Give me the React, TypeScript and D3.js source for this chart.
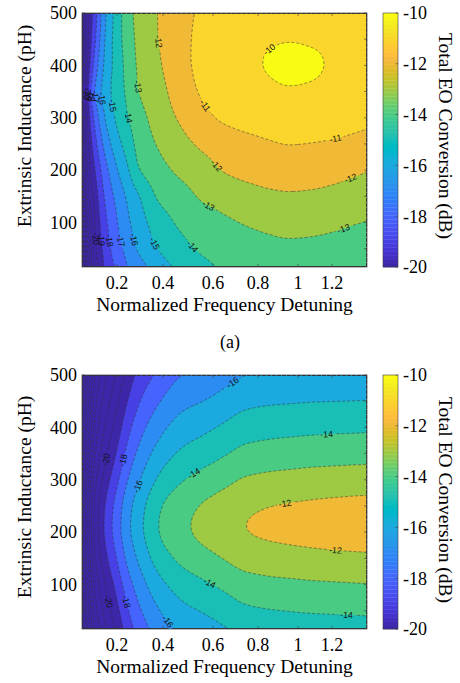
import React, { useMemo } from "react";
import * as d3 from "d3";

// ---------- data ----------
// grid columns: normalized frequency detuning
const xGrid = [0.04, 0.07, 0.1, 0.149, 0.198, 0.245, 0.292, 0.386, 0.473, 0.56, 0.651, 0.747, 0.848, 0.956, 1.076, 1.202, 1.301, 1.36];
// grid rows: extrinsic inductance (pH)
const yGrid = [15, 50, 100, 150, 200, 250, 300, 350, 400, 450, 500];

// panel (a): total EO conversion (dB), one row per yGrid value
const eoTop = [
  [-29, -23.5, -20.6, -18.8, -17.84, -17.02, -16.46, -15.45, -14.74, -14.24, -13.88, -13.7, -13.57, -13.5, -13.52, -13.6, -13.72, -13.8],
  [-28.5, -23.5, -20.3, -18.55, -17.44, -16.69, -15.89, -14.91, -14.29, -13.85, -13.58, -13.4, -13.27, -13.2, -13.23, -13.32, -13.45, -13.52],
  [-27, -22.5, -20, -18.17, -17.1, -16.21, -15.49, -14.45, -13.83, -13.5, -13.17, -12.93, -12.77, -12.66, -12.7, -12.8, -12.95, -13.03],
  [-25.5, -21.2, -19.55, -17.78, -16.73, -15.85, -15.08, -13.83, -13.39, -12.85, -12.55, -12.33, -12.17, -12.1, -12.14, -12.25, -12.4, -12.5],
  [-24.5, -20.5, -19, -17.29, -16.11, -15.15, -14.11, -13.32, -12.77, -12.34, -11.95, -11.75, -11.62, -11.55, -11.58, -11.68, -11.85, -11.95],
  [-24, -20, -18.35, -16.57, -15.42, -14.56, -13.73, -12.86, -12.29, -11.83, -11.55, -11.3, -11.1, -10.98, -11.02, -11.1, -11.2, -11.25],
  [-23.5, -19.43, -17.68, -15.89, -14.85, -14.09, -13.41, -12.52, -11.85, -11.24, -10.85, -10.62, -10.5, -10.45, -10.48, -10.58, -10.75, -10.85],
  [-23, -19, -17, -15.52, -14.55, -13.81, -13.03, -12.29, -11.5, -10.88, -10.55, -10.32, -10.14, -10.06, -10.1, -10.22, -10.37, -10.45],
  [-23.5, -19.53, -17.59, -15.69, -14.6, -13.67, -12.89, -12.08, -11.31, -10.72, -10.4, -10.15, -9.97, -9.88, -9.92, -10.07, -10.22, -10.3],
  [-24, -19.88, -18.12, -15.86, -14.54, -13.53, -12.79, -11.95, -11.27, -10.75, -10.45, -10.22, -10.08, -10.03, -10.07, -10.16, -10.28, -10.36],
  [-24.5, -20.1, -18.47, -16.04, -14.61, -13.4, -12.72, -11.92, -11.3, -10.85, -10.62, -10.48, -10.41, -10.38, -10.4, -10.47, -10.56, -10.62],
];

// panel (b)
const eoBottom = [
  [-29.28, -25.58, -22.88, -21.03, -19.78, -18.57, -17.67, -16.52, -15.8, -15.46, -15.08, -14.71, -14.59, -14.52, -14.47, -14.44, -14.42, -14.4],
  [-28.83, -25.13, -22.43, -20.58, -19.33, -18.12, -17.22, -16.01, -15.29, -14.93, -14.55, -14.18, -14.05, -13.98, -13.92, -13.89, -13.86, -13.84],
  [-28.18, -24.48, -21.78, -19.93, -18.68, -17.47, -16.57, -15.28, -14.56, -14.16, -13.78, -13.41, -13.27, -13.2, -13.13, -13.09, -13.05, -13.03],
  [-27.5, -23.8, -21.1, -19.25, -18.0, -16.79, -15.89, -14.51, -13.79, -13.34, -12.96, -12.59, -12.45, -12.36, -12.29, -12.23, -12.19, -12.17],
  [-27.03, -23.33, -20.63, -18.78, -17.53, -16.32, -15.42, -13.98, -13.26, -12.78, -12.4, -12.03, -11.88, -11.79, -11.71, -11.65, -11.6, -11.58],
  [-27.15, -23.45, -20.75, -18.9, -17.65, -16.44, -15.54, -14.12, -13.4, -12.93, -12.55, -12.18, -12.03, -11.94, -11.87, -11.81, -11.76, -11.74],
  [-27.76, -24.06, -21.36, -19.51, -18.26, -17.05, -16.15, -14.81, -14.09, -13.65, -13.27, -12.9, -12.76, -12.68, -12.61, -12.56, -12.52, -12.5],
  [-28.44, -24.74, -22.04, -20.19, -18.94, -17.73, -16.83, -15.57, -14.85, -14.46, -14.08, -13.71, -13.58, -13.51, -13.44, -13.4, -13.37, -13.35],
  [-29.09, -25.39, -22.69, -20.84, -19.59, -18.38, -17.48, -16.3, -15.58, -15.23, -14.85, -14.48, -14.36, -14.29, -14.24, -14.2, -14.18, -14.16],
  [-29.74, -26.04, -23.34, -21.49, -20.24, -19.03, -18.13, -17.03, -16.31, -16.0, -15.62, -15.25, -15.13, -15.08, -15.03, -15.01, -14.99, -14.97],
  [-30.38, -26.68, -23.98, -22.13, -20.88, -19.67, -18.77, -17.75, -17.03, -16.76, -16.38, -16.01, -15.9, -15.85, -15.82, -15.8, -15.79, -15.77],
];

const contourLevels = [-40, -39, -38, -37, -36, -35, -34, -33, -32, -31, -30, -29, -28, -27, -26, -25, -24, -23, -22, -21, -20, -19, -18, -17, -16, -15, -14, -13, -12, -11, -10];

// contour label anchors (level, detuning, inductance)
const labelsTop = [
  { v: -10, x: 0.877, y: 420 },
  { v: -11, x: 0.561, y: 321 }, { v: -11, x: 1.214, y: 261 },
  { v: -12, x: 0.38, y: 445 }, { v: -12, x: 0.601, y: 203 }, { v: -12, x: 1.29, y: 181 },
  { v: -13, x: 0.293, y: 359 }, { v: -13, x: 0.575, y: 124 }, { v: -13, x: 1.252, y: 86 },
  { v: -14, x: 0.249, y: 302 }, { v: -14, x: 0.515, y: 54 },
  { v: -15, x: 0.183, y: 324 }, { v: -15, x: 0.373, y: 63 },
  { v: -16, x: 0.137, y: 337 }, { v: -16, x: 0.278, y: 68 },
  { v: -17, x: 0.111, y: 341 }, { v: -17, x: 0.225, y: 66 },
  { v: -18, x: 0.09, y: 343 }, { v: -18, x: 0.159, y: 66 },
  { v: -19, x: 0.074, y: 345 }, { v: -19, x: 0.131, y: 68 },
  { v: -20, x: 0.063, y: 347 }, { v: -20, x: 0.102, y: 70 },
];
const labelsBottom = [
  { v: -12, x: 0.935, y: 257 }, { v: -12, x: 1.214, y: 159 },
  { v: -14, x: 0.528, y: 308 }, { v: -14, x: 1.169, y: 388 }, { v: -14, x: 0.575, y: 92 }, { v: -14, x: 1.267, y: 41 },
  { v: -16, x: 0.278, y: 289 }, { v: -16, x: 0.69, y: 483 }, { v: -16, x: 0.435, y: 35 },
  { v: -18, x: 0.22, y: 337 }, { v: -18, x: 0.22, y: 66 },
  { v: -20, x: 0.145, y: 340 }, { v: -20, x: 0.145, y: 66 },
];

// x axis breakpoints (the axis spacing in the picture is not uniform)
const xAxisValues = [0.04, 0.2, 0.4, 0.6, 0.8, 1.0, 1.2, 1.36];
const xTicks = [0.2, 0.4, 0.6, 0.8, 1, 1.2];
const xTickLabels = ["0.2", "0.4", "0.6", "0.8", "1", "1.2"];
const yTicks = [50, 100, 150, 200, 250, 300, 350, 400, 450, 500];
const yTickLabels = [100, 200, 300, 400, 500];
const cbTicks = [-20, -18, -16, -14, -12, -10];

const PARULA = [
  [0.2422, 0.1504, 0.6603], [0.2504, 0.165, 0.7076], [0.2578, 0.1818, 0.7511], [0.2647, 0.1978, 0.7952],
  [0.2706, 0.2147, 0.8364], [0.2751, 0.2342, 0.871], [0.2783, 0.2559, 0.8991], [0.2803, 0.2782, 0.9221],
  [0.2813, 0.3006, 0.9414], [0.281, 0.3228, 0.9579], [0.2795, 0.3447, 0.9717], [0.276, 0.3667, 0.9829],
  [0.2699, 0.3892, 0.9906], [0.2602, 0.4123, 0.9952], [0.244, 0.4358, 0.9988], [0.2206, 0.4603, 0.9973],
  [0.1963, 0.4847, 0.9892], [0.1834, 0.5074, 0.9798], [0.1786, 0.5289, 0.9682], [0.1764, 0.5499, 0.952],
  [0.1687, 0.5703, 0.9359], [0.154, 0.5902, 0.9218], [0.146, 0.6091, 0.9079], [0.138, 0.6276, 0.8973],
  [0.1248, 0.6459, 0.8883], [0.1113, 0.6635, 0.8763], [0.0952, 0.6798, 0.8598], [0.0689, 0.6948, 0.8394],
  [0.0297, 0.7082, 0.8163], [0.0036, 0.7203, 0.7917], [0.0067, 0.7312, 0.766], [0.0433, 0.7411, 0.7394],
  [0.0964, 0.75, 0.712], [0.1408, 0.7584, 0.6842], [0.1717, 0.767, 0.6554], [0.1938, 0.7758, 0.6251],
  [0.2161, 0.7843, 0.5923], [0.247, 0.7918, 0.5567], [0.2906, 0.7973, 0.5188], [0.3406, 0.8008, 0.4789],
  [0.3909, 0.8029, 0.4354], [0.4456, 0.8024, 0.3909], [0.5044, 0.7993, 0.348], [0.5616, 0.7942, 0.3045],
  [0.6174, 0.7876, 0.2612], [0.672, 0.7793, 0.2227], [0.7242, 0.7698, 0.191], [0.7738, 0.7598, 0.1646],
  [0.8203, 0.7498, 0.1535], [0.8634, 0.7406, 0.1596], [0.9035, 0.733, 0.1774], [0.9393, 0.7288, 0.21],
  [0.9728, 0.7298, 0.2394], [0.9956, 0.7434, 0.2371], [0.997, 0.7659, 0.2199], [0.9952, 0.7893, 0.2028],
  [0.9892, 0.8136, 0.1885], [0.9786, 0.8386, 0.1766], [0.9676, 0.8639, 0.1643], [0.961, 0.889, 0.1537],
  [0.9597, 0.9135, 0.1423], [0.9628, 0.9373, 0.1265], [0.9691, 0.9606, 0.1064], [0.9769, 0.9839, 0.0805],
];

// ---------- helpers ----------
const C_MIN = -20, C_MAX = -10;
const parulaHex = PARULA.map(([r, g, b]) => d3.rgb(r * 255, g * 255, b * 255).formatHex());
function colorFor(v: number) {
  let k = Math.floor(((v - C_MIN) / (C_MAX - C_MIN)) * 64);
  k = Math.max(0, Math.min(63, k));
  return parulaHex[k];
}

function monoSlopes(xs: number[], ys: number[]) {
  const n = xs.length;
  const d: number[] = [];
  for (let k = 0; k < n - 1; k++) d.push((ys[k + 1] - ys[k]) / (xs[k + 1] - xs[k]));
  const m = new Array(n).fill(0);
  m[0] = d[0];
  m[n - 1] = d[n - 2];
  for (let k = 1; k < n - 1; k++) {
    if (d[k - 1] * d[k] <= 0) m[k] = 0;
    else {
      const h0 = xs[k] - xs[k - 1], h1 = xs[k + 1] - xs[k];
      const w1 = 2 * h1 + h0, w2 = h1 + 2 * h0;
      m[k] = (w1 + w2) / (w1 / d[k - 1] + w2 / d[k]);
    }
  }
  return m;
}
function smoothSlopes(xs: number[], ys: number[]) {
  const n = xs.length;
  const d: number[] = [];
  for (let k = 0; k < n - 1; k++) d.push((ys[k + 1] - ys[k]) / (xs[k + 1] - xs[k]));
  const m = new Array(n).fill(0);
  m[0] = d[0];
  m[n - 1] = d[n - 2];
  for (let k = 1; k < n - 1; k++) {
    const h0 = xs[k] - xs[k - 1], h1 = xs[k + 1] - xs[k];
    m[k] = (h1 * d[k - 1] + h0 * d[k]) / (h0 + h1);
  }
  return m;
}
function hermite(xs: number[], ys: number[], m: number[], x: number) {
  const n = xs.length;
  let i = d3.bisectRight(xs, x) - 1;
  i = Math.max(0, Math.min(n - 2, i));
  const h = xs[i + 1] - xs[i];
  const t = Math.max(0, Math.min(1, (x - xs[i]) / h));
  const t2 = t * t, t3 = t2 * t;
  return (2 * t3 - 3 * t2 + 1) * ys[i] + (t3 - 2 * t2 + t) * h * m[i] + (-2 * t3 + 3 * t2) * ys[i + 1] + (t3 - t2) * h * m[i + 1];
}

const PL = 82, PR = 367, PH = 254;
const CB0 = 383, CB1 = 398;
const SERIF = "'Liberation Serif', 'Times New Roman', serif";
const SANS = "'Liberation Sans', Arial, sans-serif";
const AXIS_COLOR = "#3c3c3c";
// pixel positions of the axis breakpoints as they appear in the picture
const xAxisPixels = [82, 117, 163, 213, 258, 298, 332, 367];

type Lab = { v: number; x: number; y: number };

function Panel({ top, grid, labels, id, titleY, cbTitleY }: { top: number; grid: number[][]; labels: Lab[]; id: string; titleY: number; cbTitleY: number }) {
  const bottom = top + PH;
  const x = d3.scaleLinear().domain(xAxisValues).range(xAxisPixels);
  const y = d3.scaleLinear().domain([15, 500]).range([bottom, top]);
  const c = d3.scaleLinear().domain([C_MIN, C_MAX]).range([bottom, top]);
  const nx = PR - PL, ny = PH;

  const { contours, labelItems } = useMemo(() => {
    const rowSlopes = grid.map((r) => monoSlopes(xGrid, r));
    const vals = new Array(nx * ny);
    for (let i = 0; i < nx; i++) {
      const xv = Math.max(0.04, Math.min(1.36, x.invert(PL + i + 0.5)));
      const col = grid.map((r, k) => hermite(xGrid, r, rowSlopes[k], xv));
      const ms = smoothSlopes(yGrid, col);
      for (let j = 0; j < ny; j++) {
        const yv = Math.max(15, Math.min(500, y.invert(top + j + 0.5)));
        vals[j * nx + i] = hermite(yGrid, col, ms, yv);
      }
    }
    const cs = d3.contours().size([nx, ny]).thresholds(contourLevels)(vals);
    const items = labels.map((lab) => {
      const tx = x(lab.x) - PL, ty = y(lab.y) - top;
      const cc = cs.find((q) => q.value === lab.v);
      let best = { d: Infinity, px: tx, py: ty, ang: 0 };
      if (cc) {
        for (const poly of cc.coordinates) {
          for (const ring of poly) {
            const L = ring.length;
            for (let k = 0; k < L; k++) {
              const [px, py] = ring[k];
              if (px <= 0.01 || px >= nx - 0.01 || py <= 0.01 || py >= ny - 0.01) continue;
              const dd = (px - tx) ** 2 + (py - ty) ** 2;
              if (dd < best.d) {
                const a = ring[(k - 3 + L) % L], b = ring[(k + 3) % L];
                let ang = (Math.atan2(b[1] - a[1], b[0] - a[0]) * 180) / Math.PI;
                if (ang > 90) ang -= 180;
                if (ang < -90) ang += 180;
                best = { d: dd, px, py, ang };
              }
            }
          }
        }
      }
      return { text: String(lab.v), px: best.px + PL, py: best.py + top, ang: best.ang };
    });
    return { contours: cs, labelItems: items };
  }, []);

  const path = d3.geoPath();
  const cbSteps = d3.range(64);

  return (
    <g>
      <defs>
        <clipPath id={`clip-${id}`}>
          <rect x={PL} y={top} width={nx} height={ny} />
        </clipPath>
        <mask id={`mask-${id}`} maskUnits="userSpaceOnUse" x={0} y={0} width={460} height={683}>
          <rect x={0} y={0} width={460} height={683} fill="white" />
          {labelItems.map((l, i) => (
            <rect key={i} x={-(l.text.length * 4.9 + 2) / 2} y={-3.8} width={l.text.length * 4.9 + 2} height={7.6} fill="black"
              transform={`translate(${l.px},${l.py}) rotate(${l.ang})`} />
          ))}
        </mask>
      </defs>
      <g clipPath={`url(#clip-${id})`}>
        <rect x={PL} y={top} width={nx} height={ny} fill={colorFor(-40)} />
        <g transform={`translate(${PL},${top})`}>
          {contours.map((cc, i) => (
            <path key={i} d={path(cc as any) || ""} fill={colorFor(cc.value)} stroke="none" />
          ))}
        </g>
        <g mask={`url(#mask-${id})`}>
          <g transform={`translate(${PL},${top})`}>
            {contours.map((cc, i) => (
              <path key={i} d={path(cc as any) || ""} fill="none" stroke="#333" strokeWidth={0.55} strokeDasharray="3 2" />
            ))}
          </g>
        </g>
        {labelItems.map((l, i) => (
          <text key={i} transform={`translate(${l.px},${l.py}) rotate(${l.ang})`} textAnchor="middle" dy="0.34em"
            fontFamily={SANS} fontSize={8.8} fill="#111">{l.text}</text>
        ))}
      </g>
      {/* axes box and ticks */}
      <rect x={PL} y={top} width={nx} height={ny} fill="none" stroke={AXIS_COLOR} strokeWidth={0.7} />
      {xTicks.map((t, i) => (
        <g key={i}>
          <line x1={x(t)} x2={x(t)} y1={bottom} y2={bottom - 3} stroke={AXIS_COLOR} strokeWidth={0.6} />
          <line x1={x(t)} x2={x(t)} y1={top} y2={top + 3} stroke={AXIS_COLOR} strokeWidth={0.6} />
          <text x={x(t)} y={bottom + 22} textAnchor="middle" fontFamily={SERIF} fontSize={18} fill="#000">{xTickLabels[i]}</text>
        </g>
      ))}
      {yTicks.map((t, i) => (
        <g key={i}>
          <line x1={PL} x2={PL + 3} y1={y(t)} y2={y(t)} stroke={AXIS_COLOR} strokeWidth={0.6} />
          <line x1={PR} x2={PR - 3} y1={y(t)} y2={y(t)} stroke={AXIS_COLOR} strokeWidth={0.6} />
        </g>
      ))}
      {yTickLabels.map((t, i) => (
        <text key={i} x={77} y={y(t)} dy="0.35em" textAnchor="end" fontFamily={SERIF} fontSize={18} fill="#000">{t}</text>
      ))}
      <text x={(PL + PR) / 2} y={bottom + 44} textAnchor="middle" fontFamily={SERIF} fontSize={19.5} fill="#000">Normalized Frequency Detuning</text>
      <text transform={`translate(31,${titleY}) rotate(-90)`} textAnchor="middle" fontFamily={SERIF} fontSize={19.5} fill="#000">Extrinsic Inductance (pH)</text>
      {/* colorbar */}
      {cbSteps.map((k) => (
        <rect key={k} x={CB0} width={CB1 - CB0}
          y={c(C_MIN + ((k + 1) * (C_MAX - C_MIN)) / 64)}
          height={c(C_MIN + (k * (C_MAX - C_MIN)) / 64) - c(C_MIN + ((k + 1) * (C_MAX - C_MIN)) / 64) + 0.3}
          fill={parulaHex[k]} />
      ))}
      <rect x={CB0} y={top} width={CB1 - CB0} height={PH} fill="none" stroke={AXIS_COLOR} strokeWidth={0.6} />
      {cbTicks.map((t, i) => (
        <g key={i}>
          <line x1={CB1} x2={CB1 - 2.5} y1={c(t)} y2={c(t)} stroke={AXIS_COLOR} strokeWidth={0.6} />
          <text x={403} y={c(t)} dy="0.35em" fontFamily={SERIF} fontSize={18} fill="#000">{t}</text>
        </g>
      ))}
      <text transform={`translate(439,${cbTitleY}) rotate(90)`} textAnchor="middle" fontFamily={SERIF} fontSize={19.5} fill="#000">Total EO Conversion (dB)</text>
    </g>
  );
}

export default function App() {
  return (
    <svg width={460} height={683} viewBox="0 0 460 683" style={{ position: "absolute", left: 0, top: 0, background: "#fff" }}>
      <rect x={0} y={0} width={460} height={683} fill="#fff" />
      <Panel top={13} grid={eoTop} labels={labelsTop} id="a" titleY={126} cbTitleY={136} />
      <text x={230} y={348} textAnchor="middle" fontFamily={SERIF} fontSize={18} fill="#000">(a)</text>
      <Panel top={375} grid={eoBottom} labels={labelsBottom} id="b" titleY={497} cbTitleY={500} />
    </svg>
  );
}
